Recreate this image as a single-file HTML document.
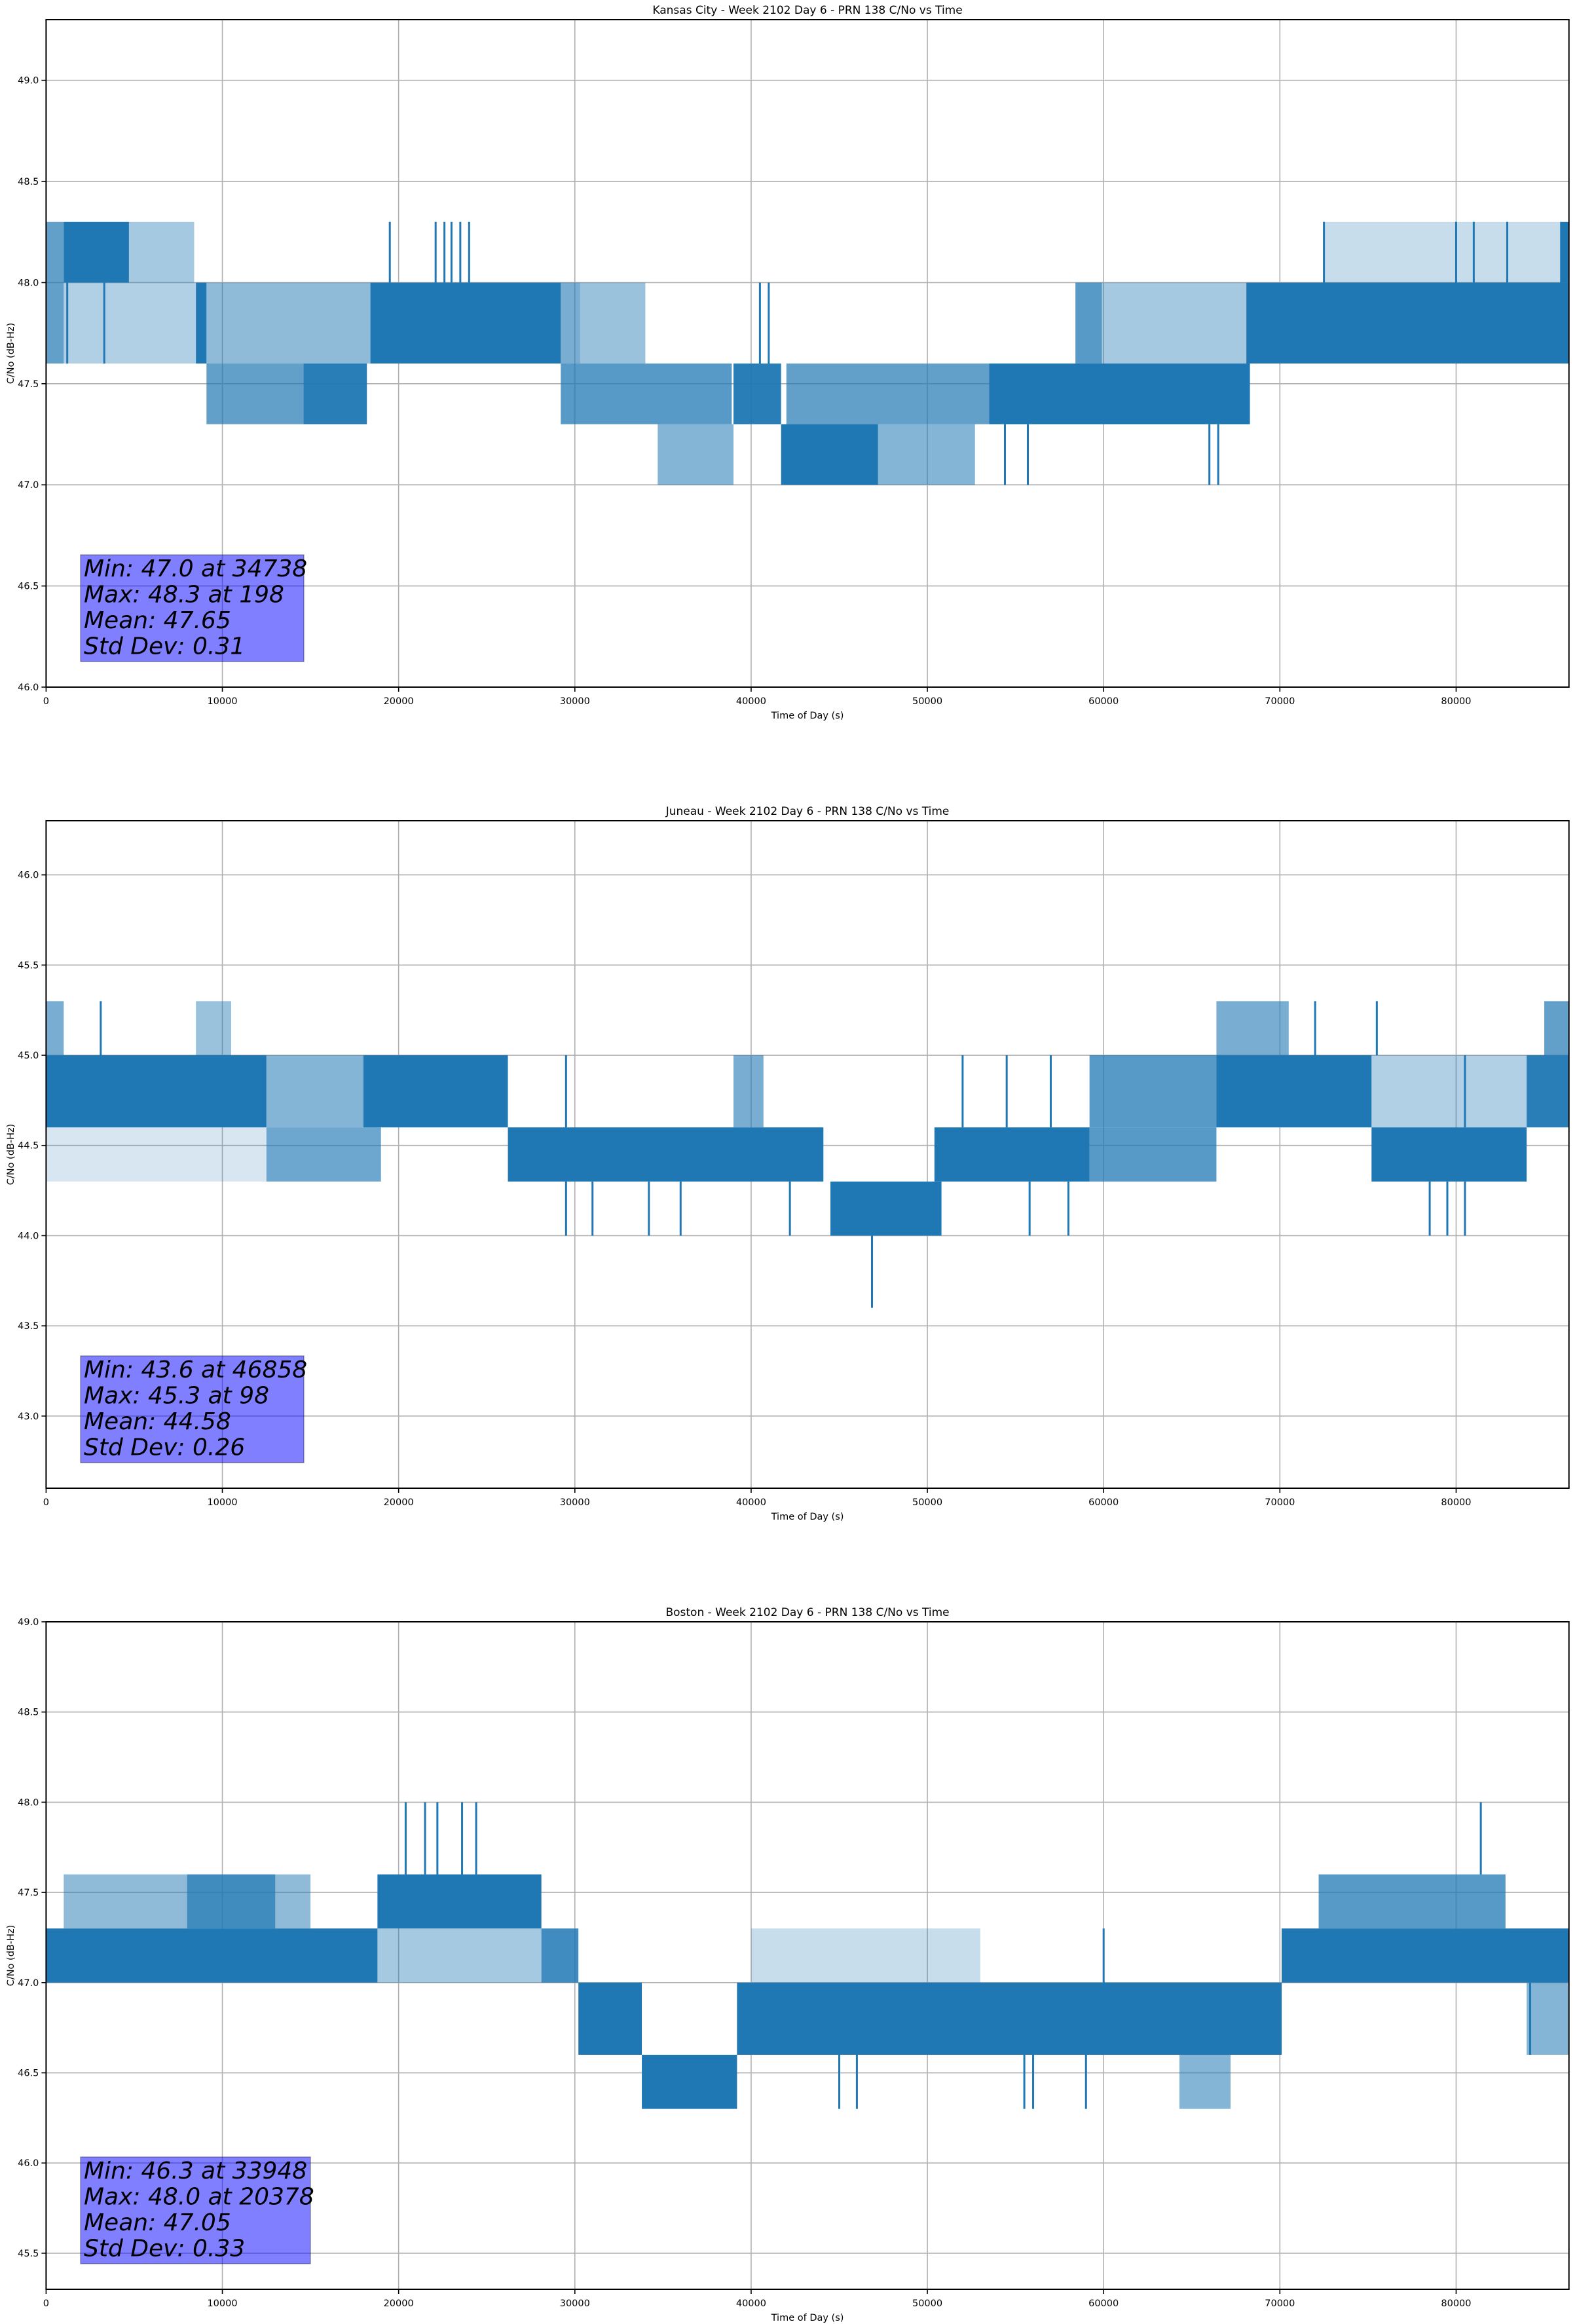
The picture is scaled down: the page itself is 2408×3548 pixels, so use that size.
<!DOCTYPE html>
<html><head><meta charset="utf-8">
<style>
html,body{margin:0;padding:0;background:#fff;}
svg{display:block;font-family:"DejaVu Sans","Liberation Sans",sans-serif;}
</style></head>
<body>
<svg id="fig" xmlns="http://www.w3.org/2000/svg" width="2408" height="3548" viewBox="0 0 2408 3548"></svg>
<script>
// ---------- data ----------
const xTicks = [0,10000,20000,30000,40000,50000,60000,70000,80000];
const titles = ["Kansas City - Week 2102 Day 6 - PRN 138 C/No vs Time","Juneau - Week 2102 Day 6 - PRN 138 C/No vs Time","Boston - Week 2102 Day 6 - PRN 138 C/No vs Time"];
const yMins = [46.0, 42.6, 45.3];
const yMaxs = [49.3, 46.3, 49.0];
const yTicks0 = [46.0,46.5,47.0,47.5,48.0,48.5,49.0];
const yTicks1 = [43.0,43.5,44.0,44.5,45.0,45.5,46.0];
const yTicks2 = [45.5,46.0,46.5,47.0,47.5,48.0,48.5,49.0];
const stats0 = ["Min: 47.0 at 34738","Max: 48.3 at 198","Mean: 47.65","Std Dev: 0.31"];
const stats1 = ["Min: 43.6 at 46858","Max: 45.3 at 98","Mean: 44.58","Std Dev: 0.26"];
const stats2 = ["Min: 46.3 at 33948","Max: 48.0 at 20378","Mean: 47.05","Std Dev: 0.33"];

// Kansas City bands
const kcStart = [0,1000,4700,1000,8500,9100,14600,9100,18400,29200,30300,34700,39000,41700,47200,42000,53500,58400,59900,68100,85900,72500,29200];
const kcEnd   = [1000,4700,8400,8500,9100,14600,18200,18400,29200,38900,34000,39000,41700,47200,52700,53500,68300,59900,68300,86400,86400,86000,30300];
const kcLo    = [47.6,48.0,48.0,47.6,47.6,47.3,47.3,47.6,47.6,47.3,47.6,47.0,47.3,47.0,47.0,47.3,47.3,47.6,47.6,47.6,48.0,48.0,47.6];
const kcHi    = [48.3,48.3,48.3,48.0,48.0,47.6,47.6,48.0,48.0,47.6,48.0,47.3,47.6,47.3,47.3,47.6,47.6,48.0,48.0,48.0,48.3,48.3,48.0];
const kcDens  = [0.6,0.95,0.3,0.25,0.9,0.6,0.85,0.4,0.95,0.65,0.35,0.45,0.85,0.92,0.45,0.6,0.92,0.65,0.3,0.95,0.9,0.15,0.5];
const kcSpikeT    = [19500,22100,22600,23000,23500,24000,54400,55700,66000,66500,72500,80000,81000,82900,40500,41000,1200,3300];
const kcSpikeFrom = [48.0,48.0,48.0,48.0,48.0,48.0,47.3,47.3,47.3,47.3,48.0,48.0,48.0,48.0,47.6,47.6,48.0,48.0];
const kcSpikeTo   = [48.3,48.3,48.3,48.3,48.3,48.3,47.0,47.0,47.0,47.0,48.3,48.3,48.3,48.3,48.0,48.0,47.6,47.6];

// Juneau bands
const jnStart = [0,0,8500,12500,12500,18000,26200,44500,50400,59200,59200,66400,66400,75200,75200,84000,85000,39000,0];
const jnEnd   = [12500,1000,10500,19000,18000,26200,44100,50800,59200,66400,66400,75200,70500,84000,84000,86400,86400,40700,12500];
const jnLo    = [44.6,45.0,45.0,44.3,44.6,44.6,44.3,44.0,44.3,44.6,44.3,44.6,45.0,44.3,44.6,44.6,45.0,44.6,44.3];
const jnHi    = [45.0,45.3,45.3,44.6,45.0,45.0,44.6,44.3,44.6,45.0,44.6,45.0,45.3,44.6,45.0,45.0,45.3,45.0,44.6];
const jnDens  = [0.95,0.5,0.35,0.55,0.45,0.92,0.92,0.95,0.9,0.65,0.65,0.95,0.5,0.92,0.25,0.85,0.6,0.5,0.08];
const jnSpikeT    = [46858,3100,29500,31000,34200,36000,42200,55800,58000,78500,79500,80500,52000,54500,57000,29500,72000,75500,80500];
const jnSpikeFrom = [44.0,45.0,44.3,44.3,44.3,44.3,44.3,44.3,44.3,44.3,44.3,44.3,44.6,44.6,44.6,44.6,45.0,45.0,44.6];
const jnSpikeTo   = [43.6,45.3,44.0,44.0,44.0,44.0,44.0,44.0,44.0,44.0,44.0,44.0,45.0,45.0,45.0,45.0,45.3,45.3,45.0];

// Boston bands
const bsStart = [0,1000,8000,18800,18800,28100,30200,33800,39200,64300,70100,72200,84000,40000];
const bsEnd   = [18800,15000,13000,28100,28100,30200,33800,39200,70100,67200,86400,82800,86400,53000];
const bsLo    = [47.0,47.3,47.3,47.3,47.0,47.0,46.6,46.3,46.6,46.3,47.0,47.3,46.6,47.0];
const bsHi    = [47.3,47.6,47.6,47.6,47.3,47.3,47.0,46.6,47.0,46.6,47.3,47.6,47.0,47.3];
const bsDens  = [0.95,0.4,0.6,0.95,0.3,0.75,0.95,0.95,0.9,0.45,0.9,0.65,0.45,0.15];
const bsSpikeT    = [20400,21500,22200,23600,24400,81400,45000,46000,55500,56000,59000,84200,60000];
const bsSpikeFrom = [47.6,47.6,47.6,47.6,47.6,47.6,46.6,46.6,46.6,46.6,46.6,47.0,47.0];
const bsSpikeTo   = [48.0,48.0,48.0,48.0,48.0,48.0,46.3,46.3,46.3,46.3,46.3,46.6,47.3];

// ---------- rendering ----------
const NS = "http://www.w3.org/2000/svg";
const svg = document.getElementById('fig');
const L = 70.4, R = 2395.7, H = 1019, X_MAX = 86400;
const tops = [30, 1253, 2476];
function mk(tag, attrs, parent){ const e=document.createElementNS(NS,tag); for(const k in attrs) e.setAttribute(k,attrs[k]); (parent||svg).appendChild(e); return e; }
function xs(t){ return L + (t/X_MAX)*(R-L); }

const allTicks=[yTicks0,yTicks1,yTicks2];
const allStats=[stats0,stats1,stats2];
const bands=[[kcStart,kcEnd,kcLo,kcHi,kcDens],[jnStart,jnEnd,jnLo,jnHi,jnDens],[bsStart,bsEnd,bsLo,bsHi,bsDens]];
const spikes=[[kcSpikeT,kcSpikeFrom,kcSpikeTo],[jnSpikeT,jnSpikeFrom,jnSpikeTo],[bsSpikeT,bsSpikeFrom,bsSpikeTo]];
const boxW=[341,341,351];

for(let p=0;p<3;p++){
  const top=tops[p], bot=top+H, y0=yMins[p], y1=yMaxs[p];
  const ys = v => bot - (v-y0)/(y1-y0)*H;
  const g = mk('g',{});
  
  
  for(const t of xTicks){ const l=mk('line',{x1:xs(t),x2:xs(t),y1:top,y2:bot,stroke:'#b0b0b0','stroke-width':1.6},g);   }
  for(const v of allTicks[p]){ const l=mk('line',{x1:L,x2:R,y1:ys(v),y2:ys(v),stroke:'#b0b0b0','stroke-width':1.6},g);   }
  const [bs,be,bl,bh,bd]=bands[p];
  for(let i=0;i<bs.length;i++){
    const r=mk('rect',{x:xs(bs[i]),y:ys(bh[i]),width:Math.max(2,xs(be[i])-xs(bs[i])),height:ys(bl[i])-ys(bh[i]),fill:'#1f77b4','fill-opacity':Math.min(1,0.1+bd[i])},g);
    
    
  }
  const [st,sf,sto]=spikes[p];
  for(let i=0;i<st.length;i++){
    const l=mk('line',{x1:xs(st[i]),x2:xs(st[i]),y1:ys(sf[i]),y2:ys(sto[i]),stroke:'#1f77b4','stroke-width':3},g);
    
    
  }
  const f=mk('rect',{x:L,y:top,width:R-L,height:H,fill:'none',stroke:'#000','stroke-width':2},g);
  
  
  for(const t of xTicks){
    mk('line',{x1:xs(t),x2:xs(t),y1:bot,y2:bot+7,stroke:'#000','stroke-width':1.6},g);
    const tx=mk('text',{x:xs(t),y:bot+26,'font-size':14.5,'text-anchor':'middle',fill:'#000'},g);
    tx.textContent=String(t);
    
    
  }
  for(const v of allTicks[p]){
    mk('line',{x1:L-7,x2:L,y1:ys(v),y2:ys(v),stroke:'#000','stroke-width':1.6},g);
    const tx=mk('text',{x:L-11,y:ys(v)+5,'font-size':14.5,'text-anchor':'end',fill:'#000'},g);
    tx.textContent=v.toFixed(1);
    
    
  }
  const ti=mk('text',{x:(L+R)/2,y:top-9,'font-size':17,'text-anchor':'middle',fill:'#000'},g);
  ti.textContent=titles[p];
  
  
  const xl=mk('text',{x:(L+R)/2,y:bot+48,'font-size':14.5,'text-anchor':'middle',fill:'#000'},g);
  xl.textContent='Time of Day (s)';
  
  
  const yl=mk('text',{x:0,y:0,'font-size':14.5,'text-anchor':'middle',fill:'#000',transform:`translate(21,${top+H/2}) rotate(-90)`},g);
  yl.textContent='C/No (dB-Hz)';
  
  
  const by=top+817;
  const b=mk('rect',{x:123,y:by,width:boxW[p],height:163,fill:'#0000ff','fill-opacity':0.5,stroke:'#000','stroke-opacity':0.35,'stroke-width':1.5},g);
  
  
  allStats[p].forEach((s,i)=>{
    const tx=mk('text',{x:128,y:by+33+i*39.5,'font-size':36,'font-style':'italic',fill:'#000'},g);
    tx.textContent=s;
    
    
  });
}
</script>
</body></html>
